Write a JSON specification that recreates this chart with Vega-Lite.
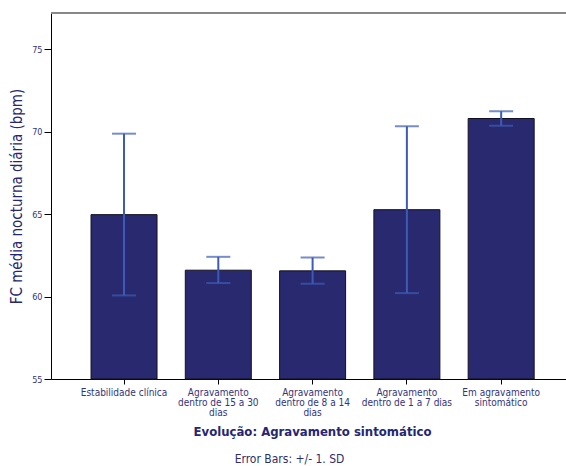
{
  "$schema": "https://vega.github.io/schema/vega-lite/v6.json",
  "autosize": "none",
  "padding": {"left": 51, "top": 13, "right": 0, "bottom": 87},
  "width": 515,
  "height": 366,
  "background": "white",
  "config": {
    "view": {"stroke": null},
    "font": "DejaVu Sans Condensed, DejaVu Sans",
    "axis": {"labelFont": "DejaVu Sans Condensed, DejaVu Sans", "titleFont": "DejaVu Sans Condensed, DejaVu Sans"}
  },
  "title": {
    "text": "Error Bars: +/- 1. SD",
    "orient": "bottom",
    "anchor": "middle",
    "fontSize": 12,
    "fontWeight": "normal",
    "color": "#2E2E6E",
    "offset": 16,
    "dx": -19,
    "font": "DejaVu Sans Condensed, DejaVu Sans"
  },
  "data": {
    "values": [
      {"cat": "Estabilidade clínica", "mean": 64.97, "lower": 60.07, "upper": 69.88},
      {"cat": "Agravamento dentro de 15 a 30 dias", "mean": 61.6, "lower": 60.82, "upper": 62.41},
      {"cat": "Agravamento dentro de 8 a 14 dias", "mean": 61.56, "lower": 60.78, "upper": 62.37},
      {"cat": "Agravamento dentro de 1 a 7 dias", "mean": 65.27, "lower": 60.21, "upper": 70.33},
      {"cat": "Em agravamento sintomático", "mean": 70.8, "lower": 70.36, "upper": 71.24}
    ]
  },
  "encoding": {
    "x": {
      "field": "cat",
      "type": "nominal",
      "sort": null,
      "scale": {"paddingInner": 0.3, "paddingOuter": 0.381, "align": 0.557},
      "axis": {
        "title": "Evolução: Agravamento sintomático",
        "titleFontSize": 13,
        "titleFontWeight": "bold",
        "titleColor": "#262673",
        "titlePadding": 8,
        "titleX": 261,
        "labelAngle": 0,
        "labelFontSize": 10,
        "labelColor": "#33337A",
        "labelLineHeight": 10,
        "labelPadding": 3,
        "labelBaseline": "top",
        "tickSize": 5,
        "tickColor": "#000000",
        "domainColor": "#000000",
        "domainWidth": 1,
        "labelExpr": "datum.label == 'Agravamento dentro de 15 a 30 dias' ? ['Agravamento', 'dentro de 15 a 30', 'dias'] : datum.label == 'Agravamento dentro de 8 a 14 dias' ? ['Agravamento', 'dentro de 8 a 14', 'dias'] : datum.label == 'Agravamento dentro de 1 a 7 dias' ? ['Agravamento', 'dentro de 1 a 7 dias'] : datum.label == 'Em agravamento sintomático' ? ['Em agravamento', 'sintomático'] : datum.label"
      }
    }
  },
  "layer": [
    {
      "mark": {"type": "bar", "fill": "#29296F", "stroke": "#111122", "strokeWidth": 1},
      "encoding": {
        "y": {
          "field": "mean",
          "type": "quantitative",
          "scale": {"domain": [55, 77.2], "nice": false, "zero": false},
          "axis": {
            "title": "FC média nocturna diária (bpm)",
            "titleFontSize": 15,
            "titleFontWeight": "normal",
            "titleColor": "#262673",
            "titlePadding": 7,
            "values": [55, 60, 65, 70, 75],
            "labelFontSize": 9,
            "labelColor": "#33337A",
            "labelPadding": 2,
            "tickSize": 7,
            "tickColor": "#000000",
            "domainColor": "#000000",
            "domainWidth": 1,
            "grid": false
          }
        },
        "y2": {"datum": 55}
      }
    },
    {
      "mark": {"type": "rule", "color": "#3D5BB5", "strokeWidth": 2},
      "encoding": {
        "y": {"field": "lower", "type": "quantitative"},
        "y2": {"field": "upper"}
      }
    },
    {
      "mark": {"type": "tick", "color": "#3D5BB5", "thickness": 2, "size": 24},
      "encoding": {"y": {"field": "lower", "type": "quantitative"}}
    },
    {
      "mark": {"type": "tick", "color": "#3D5BB5", "thickness": 2, "size": 24},
      "encoding": {"y": {"field": "upper", "type": "quantitative"}}
    },
    {
      "mark": {"type": "rule", "color": "#888888", "strokeWidth": 1.5},
      "encoding": {"y": {"datum": 77.2}, "x": {"value": 0}, "x2": {"value": "width"}}
    }
  ]
}
